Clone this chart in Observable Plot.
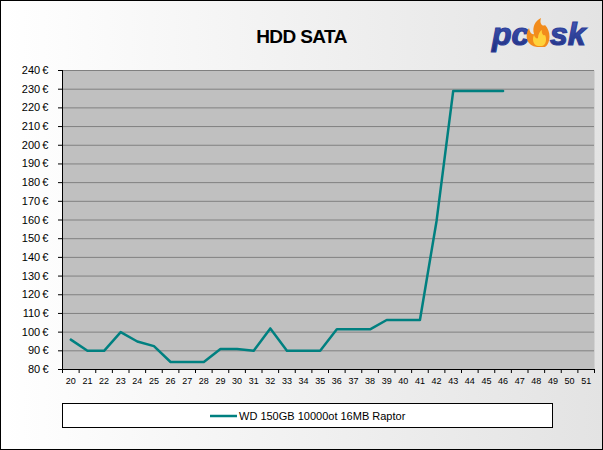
<!DOCTYPE html>
<html><head><meta charset="utf-8">
<script src="https://cdn.jsdelivr.net/npm/d3@7"></script>
<script src="https://cdn.jsdelivr.net/npm/@observablehq/plot@0.6"></script>
<style>
body{margin:0;background:#fff}
#chart{position:relative;width:603px;height:450px;background:linear-gradient(to right,#ffffff,#e3e3e3);font-family:"Liberation Sans",Arial,sans-serif;overflow:hidden}
#chart svg{position:absolute;left:0;top:0}
</style>
</head><body>
<div id="chart"></div>
<script>
const title = "HDD SATA";
const seriesName = "WD 150GB 10000ot 16MB Raptor";
const weeks = [20,21,22,23,24,25,26,27,28,29,30,31,32,33,34,35,36,37,38,39,40,41,42,43,44,45,46];
const prices = [96,90,90,100,95,92.5,84,84,84,91,91,90,102,90,90,90,101.5,101.5,101.5,106.5,106.5,106.5,159.5,229,229,229,229];
const xLabels = [20,21,22,23,24,25,26,27,28,29,30,31,32,33,34,35,36,37,38,39,40,41,42,43,44,45,46,47,48,49,50,51];
const yTicks = [80,90,100,110,120,130,140,150,160,170,180,190,200,210,220,230,240];

const data = weeks.map((w,i)=>({week:w, price:prices[i]}));
const boundaries = xLabels.map(v=>v-0.5).concat([xLabels[xLabels.length-1]+0.5]);

const chart = Plot.plot({
  width:603, height:450,
  marginLeft:62, marginRight:9, marginTop:70, marginBottom:81,
  x:{type:"linear", domain:[xLabels[0]-0.5, xLabels[xLabels.length-1]+0.5], label:null},
  y:{domain:[yTicks[0], yTicks[yTicks.length-1]], label:null},
  style:{background:"transparent", color:"#000", fontFamily:"'Liberation Sans', Arial, sans-serif"},
  marks:[
    Plot.frame({fill:"#c0c0c0", stroke:null}),
    Plot.ruleY(yTicks.slice(1), {stroke:"#808080", strokeWidth:1}),
    Plot.line(data, {x:"week", y:"price", stroke:"#008080", strokeWidth:2.5}),
    Plot.ruleX([xLabels[0]-0.5], {stroke:"#000"}),
    Plot.ruleY([yTicks[0]], {stroke:"#000"}),
    Plot.axisY(yTicks, {tickFormat:d=>d+"\u2009€", tickSize:4, tickPadding:10, fontSize:11, label:null}),
    Plot.axisX(xLabels, {tickSize:0, tickPadding:8, fontSize:9, label:null}),
    Plot.axisX(boundaries, {tickSize:4, tickFormat:()=>"", label:null})
  ]
});
const el = document.getElementById("chart");
el.appendChild(chart);

const ns = "http://www.w3.org/2000/svg";
const ov = document.createElementNS(ns,"svg");
ov.setAttribute("width",603); ov.setAttribute("height",450);
ov.innerHTML = `
<defs><linearGradient id="lg" x1="0" y1="0" x2="0" y2="1"><stop offset="0" stop-color="#4a5fc0"/><stop offset="1" stop-color="#1c2c7c"/></linearGradient></defs>
<text x="301.5" y="43" text-anchor="middle" font-family="'Liberation Sans', Arial, sans-serif" font-weight="bold" font-size="19" letter-spacing="-0.6" fill="#000">${title}</text>
<text x="492" y="45" font-family="'Liberation Sans', Arial, sans-serif" font-weight="bold" font-style="italic" font-size="32" fill="url(#lg)" stroke="#2d3f98" stroke-width="1.2">pc</text>
<path d="M537,47 C527,46 524,36 529,28 C530,33 532,35 534,34 C532,27 535,21 541,18 C539,24 543,27 545,25 C551,31 551,43 545,47 Z" fill="#f28c1c"/>
<path d="M538,46 C533,45 532,39 534,35 C535,38 537,39 538,38 C538,34 540,31 542,30 C541,34 544,36 545,35 C547,39 546,45 542,46 Z" fill="#ffd23a"/>
<text x="550" y="45" font-family="'Liberation Sans', Arial, sans-serif" font-weight="bold" font-style="italic" font-size="32" fill="url(#lg)" stroke="#2d3f98" stroke-width="1.2">sk</text>
<rect x="62.5" y="403.5" width="490" height="24" fill="#fff" stroke="#000"/>
<line x1="210" x2="237" y1="416" y2="416" stroke="#008080" stroke-width="2.5"/>
<text x="239" y="420" font-family="'Liberation Sans', Arial, sans-serif" font-size="11" fill="#000">${seriesName}</text>
<rect x="0.5" y="0.5" width="602" height="449" fill="none" stroke="#000"/>
`;
el.appendChild(ov);
</script>
</body></html>
